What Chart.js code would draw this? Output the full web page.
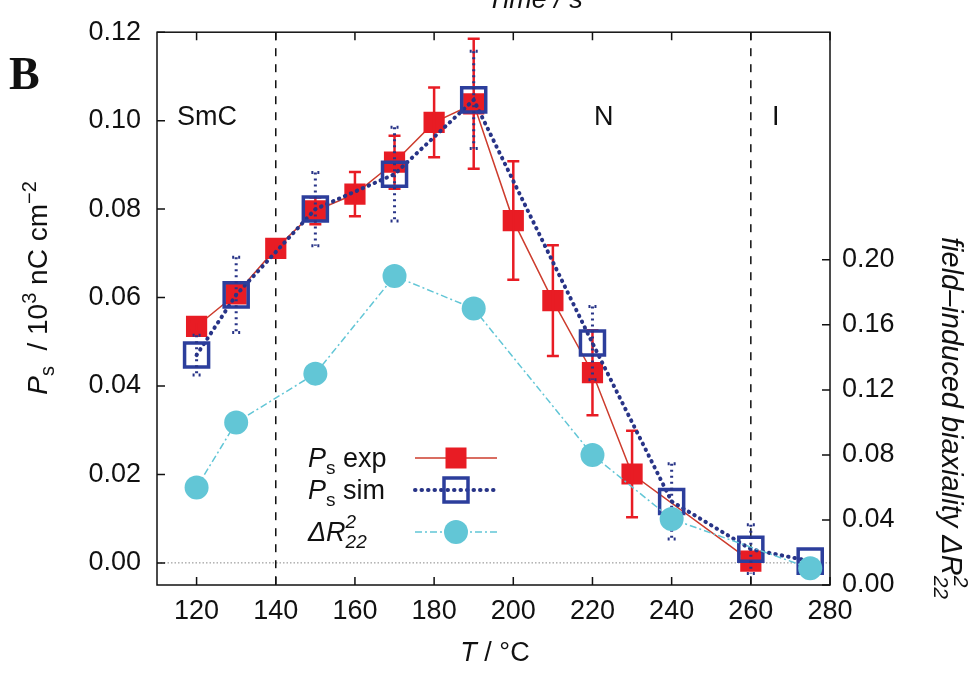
<!DOCTYPE html>
<html>
<head>
<meta charset="utf-8">
<script src="https://cdn.jsdelivr.net/npm/chart.js@4"></script>
<style>
  body { margin: 0; background: #fff; }
  #wrap { width: 979px; height: 673px; position: relative; }
</style>
</head>
<body>
<div id="wrap"><canvas id="myChart"></canvas></div>
<script>
// data
const expT = [120, 130, 140, 150, 160, 170, 180, 190, 200, 210, 220, 230, 260];
const expPs = [0.0535, 0.0608, 0.0711, 0.0796, 0.0834, 0.0906, 0.0996, 0.1038, 0.0774, 0.0593, 0.0430, 0.0201, 0.0004];
const expErr = [0.001, 0.002, 0.001, 0.003, 0.005, 0.006, 0.0079, 0.0147, 0.0134, 0.0125, 0.0096, 0.0098, 0.001];

const simT = [120, 130, 150, 170, 190, 220, 240, 260, 275];
const simPs = [0.0470, 0.0606, 0.0800, 0.0879, 0.1047, 0.0497, 0.0139, 0.0031, 0.0004];
const simErr = [0.0045, 0.0085, 0.0083, 0.0106, 0.011, 0.0083, 0.0085, 0.0055, 0];

const biaxT = [120, 130, 150, 170, 190, 220, 240, 275];
const biaxR = [0.060, 0.100, 0.130, 0.190, 0.170, 0.080, 0.0406, 0.0103];

const xTicks = [120, 140, 160, 180, 200, 220, 240, 260, 280];
const yTicks = [0, 0.02, 0.04, 0.06, 0.08, 0.10, 0.12];
const y2Ticks = [0, 0.04, 0.08, 0.12, 0.16, 0.20];
const phaseBounds = [140, 260];

const RED = 'rgb(232, 28, 36)';
const RED_LINE = 'rgb(205, 60, 45)';
const BLUE = 'rgb(44, 62, 156)';
const BLUE_LINE = 'rgb(40, 52, 135)';
const CYAN = 'rgb(98, 198, 214)';
const SANS = '"Liberation Sans", Arial, sans-serif';

const pts = (xs, ys) => xs.map((x, i) => ({ x: x, y: ys[i] }));

// draw text made of pieces (sub/superscripts)
function richWidth(ctx, parts) {
    let w = 0;
    parts.forEach(p => { ctx.font = p.font; if (!p.stay) w += ctx.measureText(p.t).width; });
    return w;
}
function drawRich(ctx, parts, x, y) {
    let cx = x;
    parts.forEach(p => {
        ctx.font = p.font;
        ctx.fillText(p.t, cx, y + (p.dy || 0));
        if (!p.stay) cx += ctx.measureText(p.t).width;
    });
}

function errorBars(ctx, chart, xs, ys, errs, style) {
    const xs_ = chart.scales.x, ys_ = chart.scales.y;
    ctx.save();
    ctx.strokeStyle = style.color;
    ctx.lineWidth = style.width;
    ctx.setLineDash(style.dash);
    ctx.lineCap = style.cap;
    xs.forEach((t, i) => {
        if (!errs[i]) return;
        const px = xs_.getPixelForValue(t);
        const top = ys_.getPixelForValue(ys[i] + errs[i]);
        const bot = ys_.getPixelForValue(ys[i] - errs[i]);
        ctx.beginPath();
        ctx.moveTo(px, top); ctx.lineTo(px, bot);
        ctx.moveTo(px - style.capW, top); ctx.lineTo(px + style.capW, top);
        ctx.moveTo(px - style.capW, bot); ctx.lineTo(px + style.capW, bot);
        ctx.stroke();
    });
    ctx.restore();
}

const decor = {
    id: 'decor',
    beforeDatasetsDraw(chart) {
        const ctx = chart.ctx, a = chart.chartArea;
        const x = chart.scales.x, y = chart.scales.y;
        ctx.save();
        // zero line
        ctx.strokeStyle = '#888';
        ctx.lineWidth = 1;
        ctx.setLineDash([1.5, 2]);
        ctx.beginPath();
        ctx.moveTo(a.left, y.getPixelForValue(0));
        ctx.lineTo(a.right, y.getPixelForValue(0));
        ctx.stroke();
        // phase boundaries
        ctx.strokeStyle = '#111';
        ctx.lineWidth = 1.5;
        ctx.setLineDash([8, 8]);
        phaseBounds.forEach(t => {
            const px = x.getPixelForValue(t);
            ctx.beginPath();
            ctx.moveTo(px, a.top); ctx.lineTo(px, a.bottom);
            ctx.stroke();
        });
        ctx.restore();
    },
    afterDatasetDraw(chart, args) {
        const ctx = chart.ctx;
        if (args.index === 2) {
            errorBars(ctx, chart, expT, expPs, expErr,
                { color: RED, width: 2.5, dash: [], cap: 'butt', capW: 6 });
        }
        if (args.index === 1) {
            errorBars(ctx, chart, simT, simPs, simErr,
                { color: BLUE_LINE, width: 3, dash: [2, 4], cap: 'butt', capW: 4 });
        }
    },
    afterDraw(chart) {
        const ctx = chart.ctx, a = chart.chartArea;
        const x = chart.scales.x, y = chart.scales.y, y2 = chart.scales.y2;
        ctx.save();
        // frame and inward ticks
        ctx.strokeStyle = '#111';
        ctx.lineWidth = 1.5;
        ctx.setLineDash([]);
        ctx.strokeRect(a.left, a.top, a.right - a.left, a.bottom - a.top);
        ctx.beginPath();
        xTicks.forEach(t => {
            const px = x.getPixelForValue(t);
            ctx.moveTo(px, a.bottom); ctx.lineTo(px, a.bottom - 8);
            ctx.moveTo(px, a.top); ctx.lineTo(px, a.top + 8);
        });
        yTicks.forEach(v => {
            const py = y.getPixelForValue(v);
            ctx.moveTo(a.left, py); ctx.lineTo(a.left + 8, py);
        });
        y2Ticks.forEach(v => {
            const py = y2.getPixelForValue(v);
            ctx.moveTo(a.right, py); ctx.lineTo(a.right - 8, py);
        });
        ctx.stroke();

        ctx.fillStyle = '#111';
        ctx.textBaseline = 'alphabetic';
        ctx.textAlign = 'left';
        // phase labels
        ctx.font = '27px ' + SANS;
        ctx.fillText('SmC', 177, 125);
        ctx.fillText('N', 594, 125);
        ctx.fillText('I', 772, 125);
        // panel letter
        ctx.font = 'bold 46px "Liberation Serif", "Times New Roman", serif';
        ctx.fillText('B', 9, 89);
        // cut-off top title
        ctx.font = 'italic 27px ' + SANS;
        ctx.fillText('Time / s', 487, 8);

        // x title
        const xt = [
            { t: 'T', font: 'italic 27px ' + SANS },
            { t: ' / °C', font: '27px ' + SANS }
        ];
        drawRich(ctx, xt, 495 - richWidth(ctx, xt) / 2, 661);

        // left title
        const lt = [
            { t: 'P', font: 'italic 28px ' + SANS },
            { t: 's', font: '20px ' + SANS, dy: 7 },
            { t: '  / 10', font: '28px ' + SANS },
            { t: '3', font: '20px ' + SANS, dy: -11 },
            { t: ' nC cm', font: '28px ' + SANS },
            { t: '−2', font: '20px ' + SANS, dy: -11 }
        ];
        ctx.save();
        ctx.translate(47, 288);
        ctx.rotate(-Math.PI / 2);
        drawRich(ctx, lt, -richWidth(ctx, lt) / 2, 0);
        ctx.restore();

        // right title
        const rt = [
            { t: 'field–induced biaxiality ΔR', font: 'italic 29px ' + SANS },
            { t: '2', font: 'italic 21px ' + SANS, dy: -12, stay: true },
            { t: '22', font: 'italic 21px ' + SANS, dy: 8 }
        ];
        ctx.save();
        ctx.translate(942, 418);
        ctx.rotate(Math.PI / 2);
        drawRich(ctx, rt, -richWidth(ctx, rt) / 2, 0);
        ctx.restore();

        // legend
        const legY = [458, 490, 532];
        const lx0 = 415, lx1 = 497, mx = 456;
        drawRich(ctx, [
            { t: 'P', font: 'italic 27px ' + SANS },
            { t: 's', font: '19px ' + SANS, dy: 7 },
            { t: ' exp', font: '27px ' + SANS }
        ], 308, legY[0] + 9);
        drawRich(ctx, [
            { t: 'P', font: 'italic 27px ' + SANS },
            { t: 's', font: '19px ' + SANS, dy: 7 },
            { t: ' sim', font: '27px ' + SANS }
        ], 308, legY[1] + 9);
        drawRich(ctx, [
            { t: 'ΔR', font: 'italic 27px ' + SANS },
            { t: '2', font: 'italic 19px ' + SANS, dy: -13, stay: true },
            { t: '22', font: 'italic 19px ' + SANS, dy: 7 }
        ], 308, legY[2] + 9);

        ctx.lineWidth = 1.5;
        ctx.strokeStyle = RED_LINE;
        ctx.beginPath(); ctx.moveTo(lx0, legY[0]); ctx.lineTo(lx1, legY[0]); ctx.stroke();
        ctx.fillStyle = RED;
        ctx.fillRect(mx - 10.5, legY[0] - 10.5, 21, 21);

        ctx.strokeStyle = BLUE_LINE;
        ctx.lineWidth = 4;
        ctx.lineCap = 'round';
        ctx.setLineDash([0.5, 6]);
        ctx.beginPath(); ctx.moveTo(lx0, legY[1]); ctx.lineTo(lx1, legY[1]); ctx.stroke();
        ctx.setLineDash([]);
        ctx.lineCap = 'butt';
        ctx.lineWidth = 3.5;
        ctx.strokeStyle = BLUE;
        ctx.strokeRect(mx - 12, legY[1] - 12, 24, 24);

        ctx.strokeStyle = CYAN;
        ctx.lineWidth = 1.5;
        ctx.setLineDash([7, 3, 2, 3]);
        ctx.beginPath(); ctx.moveTo(lx0, legY[2]); ctx.lineTo(lx1, legY[2]); ctx.stroke();
        ctx.setLineDash([]);
        ctx.fillStyle = CYAN;
        ctx.beginPath(); ctx.arc(mx, legY[2], 12, 0, Math.PI * 2); ctx.fill();
        ctx.restore();
    }
};

const data = {
    datasets: [
        {
            label: 'ΔR22^2',
            data: pts(biaxT, biaxR),
            yAxisID: 'y2',
            borderColor: CYAN,
            backgroundColor: CYAN,
            borderWidth: 1.5,
            borderDash: [7, 3, 2, 3],
            pointStyle: 'circle',
            pointRadius: 12,
            pointBorderWidth: 0,
            order: 1
        },
        {
            label: 'Ps sim',
            data: pts(simT, simPs),
            yAxisID: 'y',
            borderColor: BLUE_LINE,
            borderWidth: 4,
            borderDash: [0.5, 6],
            borderCapStyle: 'round',
            pointStyle: 'rect',
            pointRadius: 17,
            pointBorderColor: BLUE,
            pointBackgroundColor: 'rgba(0,0,0,0)',
            pointBorderWidth: 3.5,
            order: 2
        },
        {
            label: 'Ps exp',
            data: pts(expT, expPs),
            yAxisID: 'y',
            borderColor: RED_LINE,
            borderWidth: 1.5,
            pointStyle: 'rect',
            pointRadius: 15,
            pointBackgroundColor: RED,
            pointBorderWidth: 0,
            order: 3
        }
    ]
};

const tickFont = { family: SANS, size: 27 };

const config = {
    type: 'line',
    data: data,
    options: {
        responsive: true,
        maintainAspectRatio: false,
        animation: false,
        layout: { padding: { top: 24, left: 0, right: 0, bottom: 0 } },
        plugins: { legend: { display: false }, tooltip: { enabled: false } },
        scales: {
            x: {
                type: 'linear',
                min: 110, max: 280,
                grid: { display: false, drawTicks: false },
                border: { display: false },
                afterBuildTicks: s => { s.ticks = xTicks.map(v => ({ value: v })); },
                afterFit: s => { s.height = 88; },
                ticks: { color: '#111', font: tickFont, padding: 10, maxRotation: 0,
                    callback: v => String(v) }
            },
            y: {
                position: 'left',
                min: -0.005, max: 0.12,
                grid: { display: false, drawTicks: false },
                border: { display: false },
                afterBuildTicks: s => { s.ticks = yTicks.map(v => ({ value: v })); },
                afterFit: s => { s.width = 157; },
                ticks: { color: '#111', font: tickFont, padding: 16,
                    callback: v => Number(v).toFixed(2) }
            },
            y2: {
                position: 'right',
                min: 0, max: 0.34,
                grid: { display: false, drawTicks: false },
                border: { display: false },
                afterBuildTicks: s => { s.ticks = y2Ticks.map(v => ({ value: v })); },
                afterFit: s => { s.width = 149; },
                ticks: { color: '#111', font: tickFont, padding: 12,
                    callback: v => Number(v).toFixed(2) }
            }
        }
    },
    plugins: [decor]
};

const myChart = new Chart(document.getElementById('myChart'), config);
</script>
</body>
</html>
